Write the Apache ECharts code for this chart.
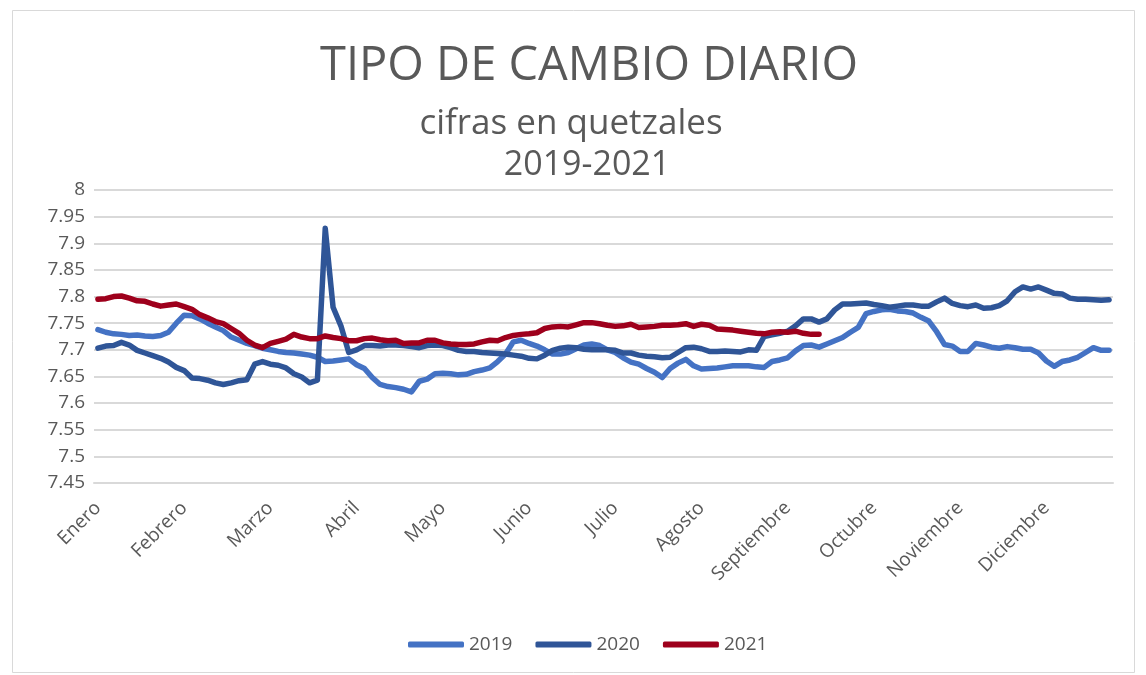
<!DOCTYPE html>
<html>
<head>
<meta charset="utf-8">
<script src="https://cdn.jsdelivr.net/npm/echarts@6/dist/echarts.min.js"></script>
<style>
  html, body { margin: 0; padding: 0; background: #fff; }
  #chart { width: 1146px; height: 675px; }
</style>
</head>
<body>
<div id="chart"></div>
<script>
// month tick labels, one every 11 points (points are read every ~2 business days)
var months = ['Enero', 'Febrero', 'Marzo', 'Abril', 'Mayo', 'Junio', 'Julio',
    'Agosto', 'Septiembre', 'Octubre', 'Noviembre', 'Diciembre'];
var perMonth = 11;
var nPoints = 130;

var years = ['2019', '2020', '2021'];

var d2019 = [
    7.738, 7.733, 7.730, 7.729, 7.727, 7.728, 7.726, 7.725, 7.727, 7.733,
    7.750, 7.765, 7.764, 7.758, 7.750, 7.743, 7.736, 7.724, 7.718, 7.712,
    7.708, 7.703, 7.700, 7.697, 7.695, 7.694, 7.692, 7.690, 7.686, 7.678,
    7.679, 7.681, 7.683, 7.672, 7.665, 7.648, 7.635, 7.631, 7.629, 7.626,
    7.621, 7.641, 7.645, 7.655, 7.656, 7.655, 7.653, 7.654, 7.659, 7.662,
    7.666, 7.678, 7.692, 7.715, 7.718, 7.712, 7.707, 7.700, 7.692, 7.692,
    7.695, 7.702, 7.709, 7.711, 7.708, 7.700, 7.695, 7.685, 7.677, 7.673,
    7.665, 7.658, 7.648, 7.665, 7.675, 7.682, 7.670, 7.664, 7.665, 7.666,
    7.668, 7.670, 7.670, 7.670, 7.668, 7.667, 7.678, 7.681, 7.685, 7.698,
    7.708, 7.709, 7.705, 7.711, 7.717, 7.723, 7.733, 7.742, 7.768, 7.772,
    7.775, 7.776, 7.773, 7.772, 7.769, 7.761, 7.754, 7.734, 7.710, 7.707,
    7.697, 7.697, 7.712, 7.709, 7.705, 7.703, 7.706, 7.704, 7.701, 7.701,
    7.694, 7.679, 7.669, 7.678, 7.681, 7.686, 7.695, 7.704, 7.699, 7.699
];

var d2020 = [
    7.703, 7.707, 7.708, 7.714, 7.709, 7.699, 7.694, 7.689, 7.684, 7.677,
    7.667, 7.661, 7.647, 7.646, 7.643, 7.638, 7.635, 7.638, 7.642, 7.644,
    7.673, 7.678, 7.673, 7.671, 7.666, 7.655, 7.649, 7.638, 7.643, 7.928,
    7.780, 7.745, 7.695, 7.700, 7.708, 7.708, 7.707, 7.709, 7.709, 7.708,
    7.706, 7.704, 7.708, 7.709, 7.708, 7.704, 7.699, 7.697, 7.697, 7.695,
    7.694, 7.693, 7.692, 7.690, 7.688, 7.684, 7.683, 7.690, 7.699, 7.703,
    7.705, 7.704, 7.701, 7.700, 7.700, 7.700, 7.699, 7.694, 7.694, 7.690,
    7.688, 7.687, 7.685, 7.686, 7.695, 7.704, 7.705, 7.702, 7.697, 7.697,
    7.698, 7.697, 7.696, 7.700, 7.699, 7.725, 7.728, 7.731, 7.735, 7.745,
    7.758, 7.758, 7.752, 7.758, 7.775, 7.786, 7.786, 7.787, 7.788, 7.785,
    7.783, 7.780, 7.782, 7.784, 7.784, 7.782, 7.782, 7.790, 7.797, 7.787,
    7.783, 7.781, 7.784, 7.778, 7.779, 7.783, 7.792, 7.809, 7.818, 7.814,
    7.818, 7.812, 7.806, 7.805, 7.797, 7.795, 7.795, 7.794, 7.793, 7.794
];

// 2021 only runs to mid September
var d2021 = [
    7.795, 7.796, 7.800, 7.801, 7.797, 7.792, 7.791, 7.786, 7.782, 7.784,
    7.786, 7.781, 7.776, 7.766, 7.760, 7.753, 7.749, 7.740, 7.731, 7.718,
    7.709, 7.704, 7.712, 7.716, 7.720, 7.729, 7.724, 7.721, 7.721, 7.726,
    7.723, 7.721, 7.717, 7.717, 7.721, 7.722, 7.719, 7.717, 7.718, 7.712,
    7.713, 7.713, 7.718, 7.718, 7.713, 7.711, 7.710, 7.710, 7.711, 7.715,
    7.718, 7.717, 7.723, 7.727, 7.729, 7.730, 7.732, 7.740, 7.743, 7.744,
    7.743, 7.747, 7.751, 7.751, 7.749, 7.746, 7.744, 7.745, 7.748, 7.742,
    7.743, 7.744, 7.746, 7.746, 7.747, 7.749, 7.744, 7.748, 7.746, 7.739,
    7.738, 7.737, 7.735, 7.733, 7.731, 7.730, 7.733, 7.734, 7.733, 7.735,
    7.731, 7.729, 7.729
];

var colors = ['#4472C4', '#2F5597', '#9E001C'];
var txt = '#595959';
var font = 'Open Sans';

var cats = [];
for (var i = 0; i < nPoints; i++) {
    cats.push(i % perMonth === 0 ? months[i / perMonth] : '');
}

var myChart = echarts.init(document.getElementById('chart'));

var seriesData = [d2019, d2020, d2021];

var option = {
    backgroundColor: '#fff',
    animation: false,
    color: colors,
    graphic: [{
        type: 'rect',
        shape: { x: 12.5, y: 10.5, width: 1122, height: 662 },
        style: { fill: 'none', stroke: '#d9d9d9', lineWidth: 1 },
        silent: true
    }],
    title: [{
        text: 'TIPO DE CAMBIO DIARIO',
        left: 584, top: 38, textAlign: 'center',
        textStyle: { fontFamily: font, fontSize: 47, fontWeight: 'normal', color: txt }
    }, {
        text: 'cifras en quetzales',
        left: 566, top: 102, textAlign: 'center',
        textStyle: { fontFamily: font, fontSize: 35, fontWeight: 'normal', color: txt }
    }, {
        text: '2019-2021',
        left: 582, top: 143, textAlign: 'center',
        textStyle: { fontFamily: font, fontSize: 34, fontWeight: 'normal', color: txt }
    }],
    legend: {
        left: 403, top: 630,
        itemWidth: 56, itemHeight: 6, itemGap: 23,
        icon: 'roundRect',
        textStyle: { fontFamily: font, fontSize: 19, color: txt },
        data: years
    },
    grid: { left: 94, right: 33, top: 190, bottom: 192 },
    xAxis: {
        type: 'category',
        data: cats,
        boundaryGap: true,
        axisLine: { lineStyle: { color: '#d9d9d9', width: 2 } },
        axisTick: { show: false },
        axisLabel: {
            interval: function (idx) { return idx % perMonth === 0; },
            rotate: 45, margin: 22,
            fontFamily: font, fontSize: 19, color: txt
        }
    },
    yAxis: {
        type: 'value',
        min: 7.45, max: 8, interval: 0.05,
        axisLine: { show: false },
        axisTick: { show: false },
        splitLine: { lineStyle: { color: '#d9d9d9', width: 2 } },
        axisLabel: {
            margin: 9,
            fontFamily: font, fontSize: 19, color: txt,
            formatter: function (v) { return String(+v.toFixed(2)); }
        }
    },
    series: years.map(function (y, k) {
        return {
            name: y,
            type: 'line',
            data: seriesData[k],
            showSymbol: false,
            symbol: 'none',
            lineStyle: { width: 5.5, color: colors[k], join: 'round', cap: 'round' },
            itemStyle: { color: colors[k] }
        };
    })
};

myChart.setOption(option);
</script>
</body>
</html>
